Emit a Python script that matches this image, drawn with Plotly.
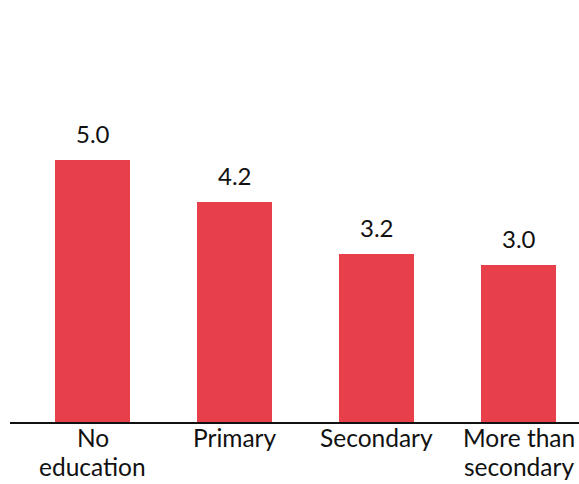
import plotly.graph_objects as go

categories = ["No<br>education", "Primary", "Secondary", "More than<br>secondary"]
values = [5.0, 4.2, 3.2, 3.0]
value_labels = ["5.0", "4.2", "3.2", "3.0"]

BAR_COLOR = "#E8404A"
FONT = "Gill Sans MT, Gill Sans, Lato, sans-serif"
TEXT_COLOR = "#111111"

x_pos = list(range(len(categories)))

fig = go.Figure(
    go.Bar(
        x=x_pos,
        y=values,
        marker=dict(color=BAR_COLOR, line=dict(width=0)),
        width=0.528,
        hoverinfo="skip",
    )
)

# value labels above each bar
for i, (v, t) in enumerate(zip(values, value_labels)):
    fig.add_annotation(
        x=i, y=v, text=t, showarrow=False,
        yanchor="bottom", yshift=10,
        font=dict(family=FONT, size=24, color=TEXT_COLOR),
    )

# category labels under the axis, one annotation per line for tight leading
for i, label in enumerate(categories):
    for j, line in enumerate(label.split("<br>")):
        fig.add_annotation(
            x=i, xref="x", y=0, yref="paper", text=line, showarrow=False,
            yanchor="middle", yshift=-15 - 29 * j,
            font=dict(family=FONT, size=24.5, color=TEXT_COLOR),
        )

fig.update_layout(
    width=579, height=484,
    margin=dict(l=10, r=0, t=0, b=62, autoexpand=False),
    paper_bgcolor="white", plot_bgcolor="white",
    showlegend=False,
    font=dict(family=FONT, size=24, color=TEXT_COLOR),
    bargap=0,
)
fig.update_xaxes(
    range=[-0.581, 3.426],
    showticklabels=False,
    showline=True, linecolor=TEXT_COLOR, linewidth=2,
    showgrid=False, zeroline=False, ticks="",
    automargin=False,
    fixedrange=True,
)
fig.update_yaxes(
    range=[0, 8.05],
    visible=False, showgrid=False, zeroline=False,
    automargin=False,
    fixedrange=True,
)

fig.write_html("out.html")
